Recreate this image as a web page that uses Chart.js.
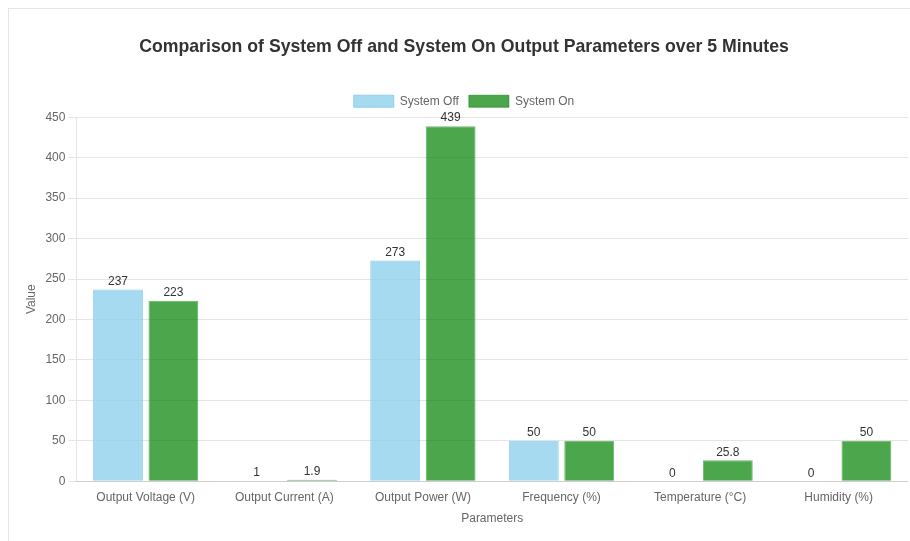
<!DOCTYPE html>
<html>
<head>
<meta charset="utf-8">
<script src="https://cdn.jsdelivr.net/npm/chart.js@4.4.1/dist/chart.umd.min.js"></script>
<style>
  html, body { margin: 0; padding: 0; background: #fff; overflow: hidden; }
  .card {
    position: absolute; left: 8px; top: 8px; width: 940px; height: 560px;
    border: 1px solid #e6e6e6; background: #fff;
  }
  .wrap { position: absolute; left: 11px; top: 12px; width: 888px; height: 509px; }
</style>
</head>
<body>
<div class="card">
  <div class="wrap"><canvas id="chart"></canvas></div>
</div>
<script>
const categories = ['Output Voltage (V)', 'Output Current (A)', 'Output Power (W)', 'Frequency (%)', 'Temperature (°C)', 'Humidity (%)'];
const systemOff = [237, 1, 273, 50, 0, 0];
const systemOn = [223, 1.9, 439, 50, 25.8, 50];

Chart.defaults.font.family = '"Liberation Sans", Arial, sans-serif';
Chart.defaults.color = '#666';

// draw the value above each bar
const valueLabels = {
  id: 'valueLabels',
  afterDatasetsDraw(chart) {
    const ctx = chart.ctx;
    ctx.save();
    ctx.font = '12px "Liberation Sans", Arial, sans-serif';
    ctx.fillStyle = '#333';
    ctx.textAlign = 'center';
    ctx.textBaseline = 'bottom';
    chart.data.datasets.forEach((ds, i) => {
      chart.getDatasetMeta(i).data.forEach((bar, j) => {
        ctx.fillText(ds.data[j], bar.x, bar.y - 2);
      });
    });
    ctx.restore();
  }
};

new Chart(document.getElementById('chart'), {
  type: 'bar',
  data: {
    labels: categories,
    datasets: [
      {
        label: 'System Off',
        data: systemOff,
        backgroundColor: 'rgba(135,206,235,0.75)',
        borderColor: 'rgba(135,206,235,0.9)',
        borderWidth: 1
      },
      {
        label: 'System On',
        data: systemOn,
        backgroundColor: 'rgba(0,128,0,0.7)',
        borderColor: 'rgba(0,128,0,0.55)',
        borderWidth: 1
      }
    ]
  },
  options: {
    responsive: true,
    maintainAspectRatio: false,
    animation: false,
    plugins: {
      title: {
        display: true,
        text: 'Comparison of System Off and System On Output Parameters over 5 Minutes',
        color: '#333',
        font: { size: 17.7, weight: 'bold' },
        padding: { top: 15, bottom: 28 }
      },
      legend: { labels: { color: '#666' } },
      tooltip: { enabled: false }
    },
    scales: {
      x: {
        grid: { display: false },
        ticks: { padding: 1 },
        title: { display: true, text: 'Parameters', padding: { top: 6, bottom: 4 } }
      },
      y: {
        beginAtZero: true,
        max: 450,
        ticks: { stepSize: 50 },
        title: { display: true, text: 'Value' }
      }
    }
  },
  plugins: [valueLabels]
});
</script>
</body>
</html>
